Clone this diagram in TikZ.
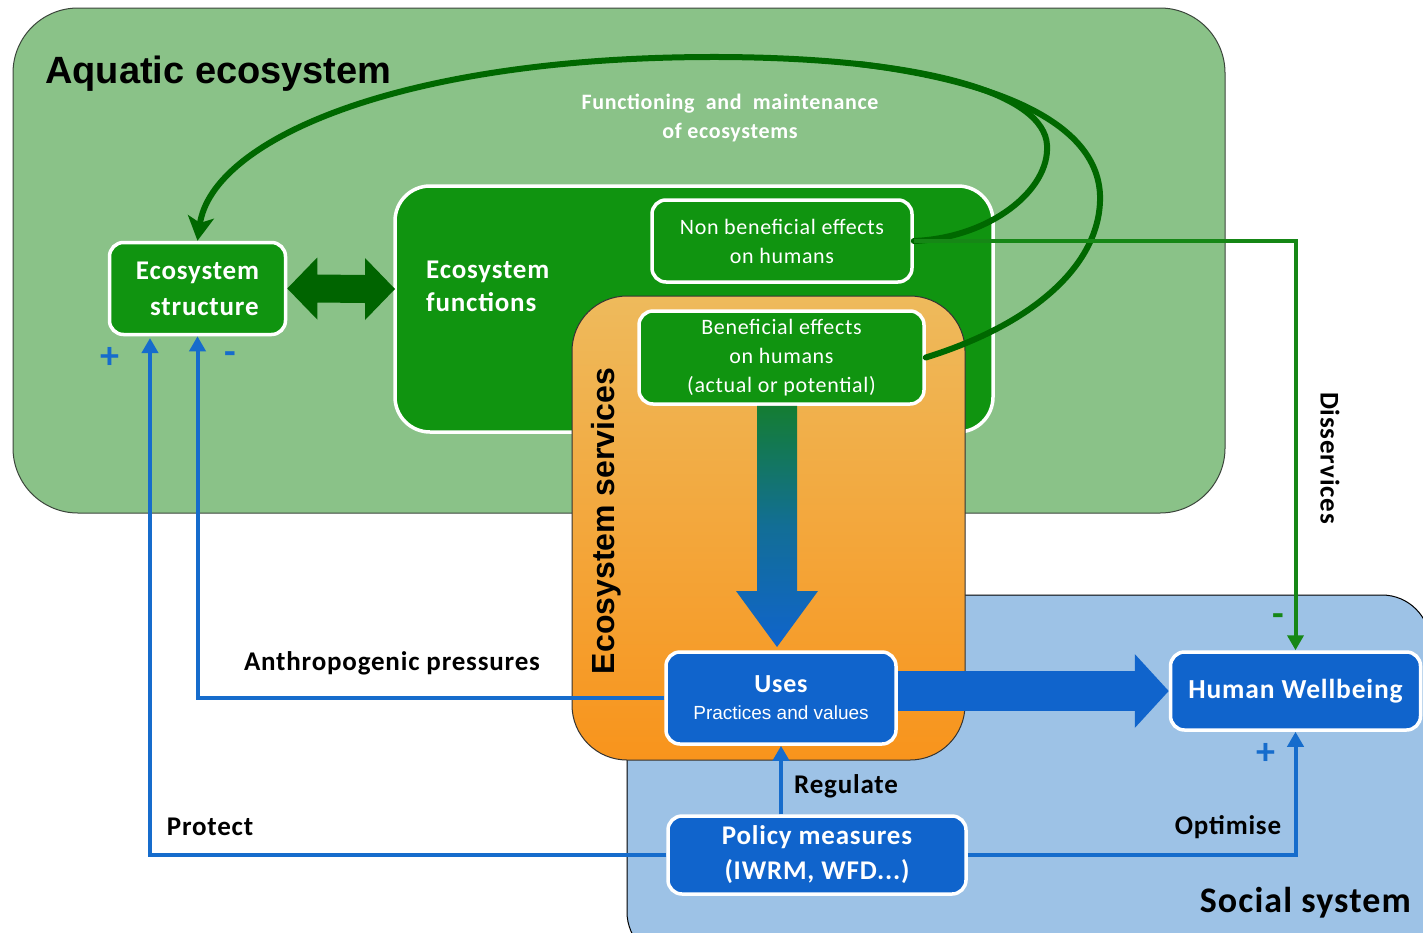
\documentclass[tikz,border=0pt]{standalone}
\usepackage{fontspec}
\setmainfont{Carlito}[LetterSpace=3]
\newfontfamily\arialf{Liberation Sans}
\usetikzlibrary{arrows.meta,calc}
\definecolor{aqbg}{RGB}{138,194,136}
\definecolor{socbg}{RGB}{157,194,230}
\definecolor{boxgreen}{RGB}{16,148,16}
\definecolor{arcgreen}{RGB}{0,104,0}
\definecolor{dgreen}{RGB}{0,100,0}
\definecolor{disgreen}{RGB}{22,135,22}
\definecolor{boxblue}{RGB}{16,100,204}
\definecolor{lineblue}{RGB}{22,108,204}
\definecolor{orangetop}{RGB}{238,186,92}
\definecolor{orangebot}{RGB}{248,148,28}
\definecolor{framegray}{RGB}{60,70,60}
\tikzset{
  gbox/.style={draw=white, line width=3.5pt, fill=boxgreen, rounded corners=14pt, text=white, align=center, inner sep=0pt},
  bbox/.style={draw=white, line width=3.5pt, fill=boxblue, rounded corners=14pt, text=white, align=center, inner sep=0pt},
  lbl/.style={font=\bfseries\fontsize{27}{30}\selectfont, text=black, inner sep=0pt},
  bline/.style={draw=lineblue, line width=4pt, -{Triangle[length=15pt,width=16pt]}},
  garc/.style={draw=arcgreen, line width=6pt, line cap=round},
  sign/.style={font=\bfseries\fontsize{38}{38}\selectfont, inner sep=0pt},
}
\begin{document}
\begin{tikzpicture}[x=1pt,y=-1pt]
\useasboundingbox (0,0) rectangle (1423,932);
\fill[white] (0,0) rectangle (1423,932);
\begin{scope}
\clip (0,0) rectangle (1423,932);
% background regions
\draw[fill=aqbg, draw=framegray, line width=1pt, rounded corners=65pt] (13,8) rectangle (1225,513);
\draw[fill=socbg, draw=black, line width=1pt, rounded corners=48pt] (627,595) rectangle (1430,960);
\end{scope}
\node[anchor=base west, font=\arialf\bfseries\fontsize{38}{42}\selectfont, inner sep=0pt] (aqtitle) at (45,83) {Aquatic ecosystem};
\node[anchor=base east, font=\bfseries\fontsize{36}{40}\selectfont, inner sep=0pt] (soctitle) at (1411,912) {Social system};

% ecosystem functions box
\draw[fill=boxgreen, draw=white, line width=3.5pt, rounded corners=35pt] (395,186) rectangle (993,432);
\coordinate (funcleft) at (395,289);
\node[anchor=west, align=left, text=white, font=\bfseries\fontsize{27}{33}\selectfont, inner sep=0pt] (funclbl) at (426,286) {Ecosystem\\functions};

% ecosystem services box
\shade[top color=orangetop, bottom color=orangebot, rounded corners=55pt] (572,296) rectangle (965,760);
\draw[draw=black!80, line width=1pt, rounded corners=55pt] (572,296) rectangle (965,760);
\node[rotate=90, font=\arialf\bfseries\fontsize{32}{34}\selectfont, inner sep=0pt] (eslbl) at (606,521) {Ecosystem services};

% nodes
\node[gbox, minimum width=176pt, minimum height=92pt, font=\bfseries\fontsize{27}{36}\selectfont] (struct) at (197.5,288.5) {Ecosystem\\\ \ structure};
\node[gbox, minimum width=260pt, minimum height=82pt, font=\fontsize{22}{29}\selectfont] (nonben) at (782,241) {Non beneficial effects\\on humans};
\node[gbox, minimum width=285pt, minimum height=93pt, font=\fontsize{22}{29}\selectfont] (ben) at (781.5,357.5) {Beneficial effects\\on humans\\(actual or potential)};
\node[bbox, minimum width=230pt, minimum height=92pt, font=\fontsize{19}{27}\selectfont] (uses) at (781,698) {{\bfseries\fontsize{26}{27}\selectfont Uses}\\{\arialf\fontsize{19}{27}\selectfont Practices and values}};
\node[bbox, minimum width=250pt, minimum height=78pt, font=\bfseries\fontsize{27.5}{30}\selectfont] (hw) at (1295.5,691) {Human Wellbeing};
\node[bbox, minimum width=298pt, minimum height=78pt, font=\bfseries\fontsize{27}{35}\selectfont] (policy) at (817,855) {Policy measures\\(IWRM, WFD...)};

% double arrow structure <-> functions
\fill[dgreen] (struct.east) -- ($(struct.east)+(30,-31)$) -- ($(struct.east)+(30,-14)$) -- ($(funcleft)+(-30,-14)$) -- ($(funcleft)+(-30,-31)$) -- (funcleft)
   -- ($(funcleft)+(-30,31)$) -- ($(funcleft)+(-30,14)$) -- ($(struct.east)+(30,14)$) -- ($(struct.east)+(30,31)$) -- cycle;

% big vertical arrow beneficial -> uses (shaded)
\coordinate (vtop) at (ben.south -| 777,0);
\coordinate (vtip) at (777,647);
\shade[top color={rgb,255:red,20;green,125;blue,50}, bottom color=boxblue, middle color={rgb,255:red,18;green,110;blue,150}]
  ($(vtop)+(-20,0)$) -- ($(vtip)+(-20,-56)$) -- ($(vtip)+(-41,-56)$) -- (vtip) -- ($(vtip)+(41,-56)$) -- ($(vtip)+(20,-56)$) -- ($(vtop)+(20,0)$) -- cycle;

% big horizontal arrow uses -> human wellbeing
\draw[draw=boxblue, line width=40pt, -{Triangle[length=34pt,width=72pt]}] (uses.east |- hw.west) -- (hw.west);

% ecosystem functioning arcs
\draw[garc, -{Stealth[length=24pt,width=26pt,inset=6pt]}] (nonben.east) .. controls (990,238) and (1050,190) .. (1047,145)
   .. controls (1044,95) and (930,58) .. (720,57) .. controls (400,56) and (212,140) .. (struct.north);
\draw[garc] (ben.east) .. controls (1040,322) and (1102,260) .. (1100,195) .. controls (1097,120) and (990,80) .. (859,64);
\node[text=white, align=center, font=\bfseries\fontsize{22}{29}\selectfont, inner sep=0pt] (fmlbl) at (730,118) {Functioning \ and \ maintenance\\of ecosystems};

% disservices
\draw[draw=disgreen, line width=4pt, -{Triangle[length=15pt,width=16pt]}] (nonben.east) -| (hw.north);
\node[lbl, rotate=-90] (dislbl) at (1330,458) {Disservices};
\node[sign, text=disgreen] (minus2) at (1278,620) {-};

% blue connectors
\draw[bline] (uses.west) -| (struct.south);
\coordinate (protin) at (150,338);
\draw[bline] (policy.west) -| (protin);
\draw[bline] (uses.south |- policy.north) -- (uses.south);
\draw[bline] (policy.east) -| (hw.south);

\node[lbl] (anthlbl) at (392,663) {Anthropogenic pressures};
\node[lbl] (protlbl) at (210,827) {Protect};
\node[lbl] (reglbl) at (846,786) {Regulate};
\node[lbl] (optlbl) at (1228,827) {Optimise};

\node[sign, text=lineblue] (plus1) at (110,358) {+};
\node[sign, text=lineblue] (minus1) at (230,358) {-};
\node[sign, text=lineblue] (plus2) at (1266,754) {+};
\end{tikzpicture}
\end{document}
